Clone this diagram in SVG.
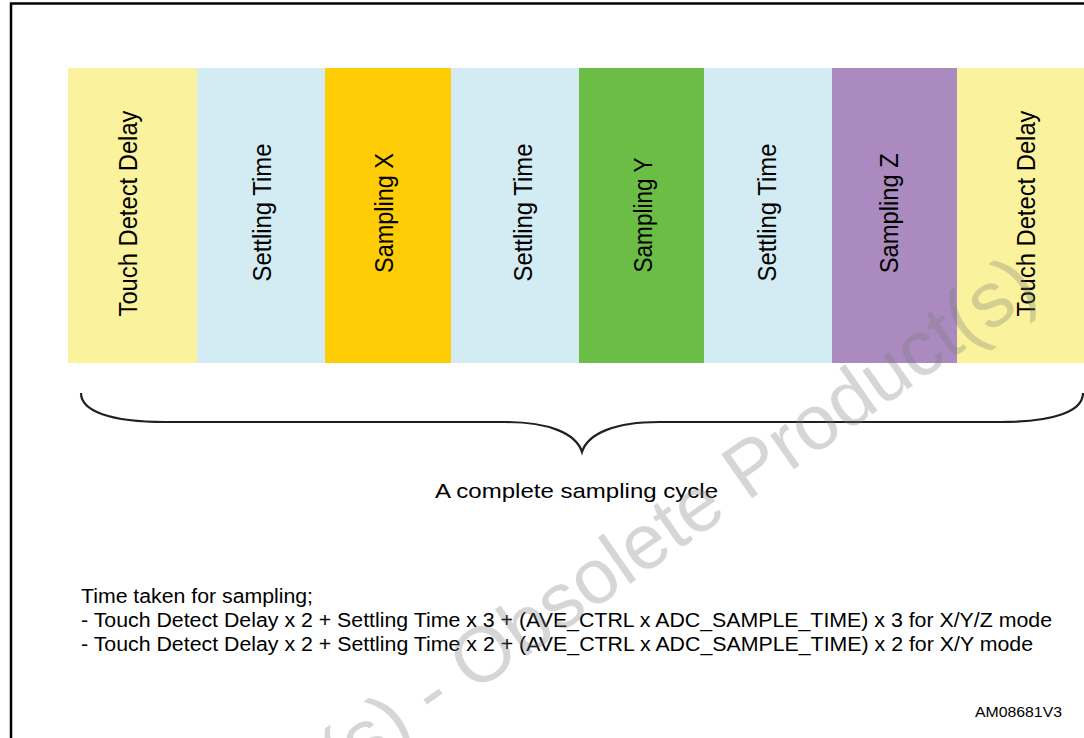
<svg xmlns="http://www.w3.org/2000/svg" width="1084" height="738" viewBox="0 0 1084 738">
<style>
.lbl{font-family:"Liberation Sans",Arial,sans-serif;font-size:25px;fill:#000;text-anchor:middle}
.txt{font-family:"Liberation Sans",Arial,sans-serif;font-size:20px;fill:#000}
.wm{font-family:"Liberation Sans",Arial,sans-serif;font-size:78px;fill:#777;fill-opacity:0.3}
.yel{fill:#FAF29C}.blu{fill:#D3ECF3}.org{fill:#FFCD05}.grn{fill:#6BBD45}.pur{fill:#AB8BBF}
</style>
<rect width="1084" height="738" fill="#fff"/>
<path d="M11,738 V3.5 H1084" fill="none" stroke="#000" stroke-width="2.5"/>
<g id="col1"><rect class="yel" x="68" y="68" width="129" height="295"/><text class="lbl" transform="translate(137,213.5) rotate(-90)" textLength="206" lengthAdjust="spacingAndGlyphs">Touch Detect Delay</text></g>
<g id="col2"><rect class="blu" x="197" y="68" width="128" height="295"/><text class="lbl" transform="translate(270.5,212.5) rotate(-90)" textLength="138" lengthAdjust="spacingAndGlyphs">Settling Time</text></g>
<g id="col3"><rect class="org" x="325" y="68" width="126" height="295"/><text class="lbl" transform="translate(393,213) rotate(-90)" textLength="120" lengthAdjust="spacingAndGlyphs">Sampling X</text></g>
<g id="col4"><rect class="blu" x="451" y="68" width="128" height="295"/><text class="lbl" transform="translate(531.5,212.5) rotate(-90)" textLength="138" lengthAdjust="spacingAndGlyphs">Settling Time</text></g>
<g id="col5"><rect class="grn" x="579" y="68" width="125" height="295"/><text class="lbl" transform="translate(652,215) rotate(-90)" textLength="115" lengthAdjust="spacingAndGlyphs">Sampling Y</text></g>
<g id="col6"><rect class="blu" x="704" y="68" width="128" height="295"/><text class="lbl" transform="translate(775.5,212.5) rotate(-90)" textLength="138" lengthAdjust="spacingAndGlyphs">Settling Time</text></g>
<g id="col7"><rect class="pur" x="832" y="68" width="125" height="295"/><text class="lbl" transform="translate(898,213.3) rotate(-90)" textLength="120" lengthAdjust="spacingAndGlyphs">Sampling Z</text></g>
<g id="col8"><rect class="yel" x="957" y="68" width="127" height="295"/><text class="lbl" transform="translate(1035,213.5) rotate(-90)" textLength="206" lengthAdjust="spacingAndGlyphs">Touch Detect Delay</text></g>
<g id="connectors">
<path id="brace" d="M81,393 C81,411 110,422 165,422 H505 C548,422 576,433 582,452 C588,433 616,422 659,422 H1000 C1055,422 1083,411 1083,393" fill="none" stroke="#231F20" stroke-width="2.2"/>
</g>
<g id="caption"><text class="txt" x="435" y="498" font-size="21" textLength="283" lengthAdjust="spacingAndGlyphs" style="font-size:21px">A complete sampling cycle</text></g>
<g id="notes">
<text class="txt" x="81" y="603" textLength="232" lengthAdjust="spacingAndGlyphs">Time taken for sampling;</text>
<text class="txt" x="81" y="627" textLength="971" lengthAdjust="spacingAndGlyphs">- Touch Detect Delay x 2 + Settling Time x 3 + (AVE_CTRL x ADC_SAMPLE_TIME) x 3 for X/Y/Z mode</text>
<text class="txt" x="81" y="651" textLength="952" lengthAdjust="spacingAndGlyphs">- Touch Detect Delay x 2 + Settling Time x 2 + (AVE_CTRL x ADC_SAMPLE_TIME) x 2 for X/Y mode</text>
<text class="txt" x="975" y="717" textLength="87" lengthAdjust="spacingAndGlyphs" style="font-size:15px">AM08681V3</text>
</g>
<text class="wm" transform="translate(747,502) rotate(-35)" x="-1097" y="0">Obsolete Product(s) - Obsolete Product(s)</text>
</svg>
